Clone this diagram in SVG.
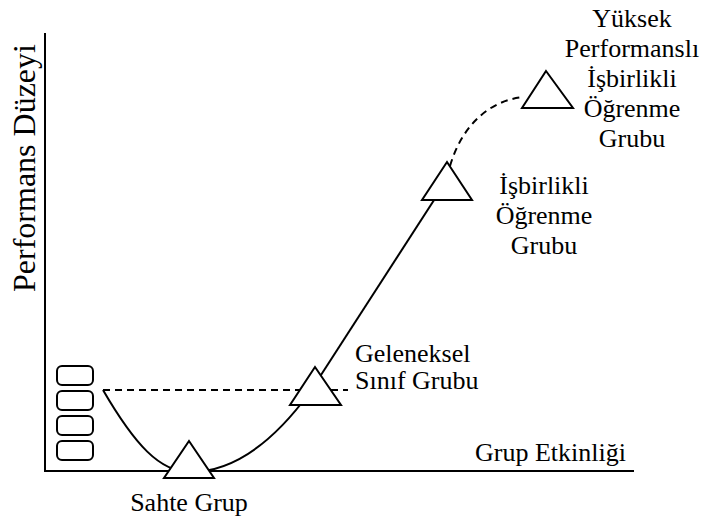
<svg xmlns="http://www.w3.org/2000/svg" width="706" height="519" viewBox="0 0 706 519">
<style>
.t{font-family:"Liberation Serif","Times New Roman",serif;font-size:26px;fill:#000}
.c{text-anchor:middle}
.ln{fill:none;stroke:#000;stroke-width:2}
.ds{fill:none;stroke:#000;stroke-width:2;stroke-dasharray:7,5}
.tri{fill:#fff;stroke:#000;stroke-width:2;stroke-linejoin:miter}
.box{fill:#fff;stroke:#000;stroke-width:2}
</style>
<rect width="706" height="519" fill="#fff"/>
<g id="axes">
<path class="ln" d="M45,33 V471 H634"/>
<text class="t" x="475" y="461">Grup Etkinliği</text>
<text class="t" style="font-size:32px" text-anchor="middle" transform="translate(35,168) rotate(-90)">Performans Düzeyi</text>
</g>
<g id="connectors">
<path class="ds" d="M103,390 H348"/>
<path class="ln" d="M103,390 C135,445 160,472 190,472 C235,472 275,440 310,392"/>
<path class="ln" d="M310,392 L447,180"/>
<path class="ds" d="M450,166 C462,125 490,100 524,97"/>
</g>
<g id="boxes">
<rect class="box" x="57" y="366" width="36" height="19" rx="5"/>
<rect class="box" x="57" y="391" width="36" height="19" rx="5"/>
<rect class="box" x="57" y="416" width="36" height="19" rx="5"/>
<rect class="box" x="57" y="441" width="36" height="19" rx="5"/>
</g>
<g id="sahte">
<polygon class="tri" points="189,441 214,478 164,478"/>
<text class="t c" x="189" y="511">Sahte Grup</text>
</g>
<g id="geleneksel">
<polygon class="tri" points="315,367 341,405 290,405"/>
<text class="t" x="355" y="362">Geleneksel</text>
<text class="t" x="355" y="389">Sınıf Grubu</text>
</g>
<g id="isbirlikli">
<polygon class="tri" points="447,162 472,200 422,200"/>
<text class="t c" x="544" y="194">İşbirlikli</text>
<text class="t c" x="544" y="224">Öğrenme</text>
<text class="t c" x="544" y="254">Grubu</text>
</g>
<g id="yuksek">
<polygon class="tri" points="546,71 573,108 522,108"/>
<text class="t c" x="632" y="27">Yüksek</text>
<text class="t c" x="632" y="57">Performanslı</text>
<text class="t c" x="632" y="87">İşbirlikli</text>
<text class="t c" x="632" y="117">Öğrenme</text>
<text class="t c" x="632" y="147">Grubu</text>
</g>
</svg>
